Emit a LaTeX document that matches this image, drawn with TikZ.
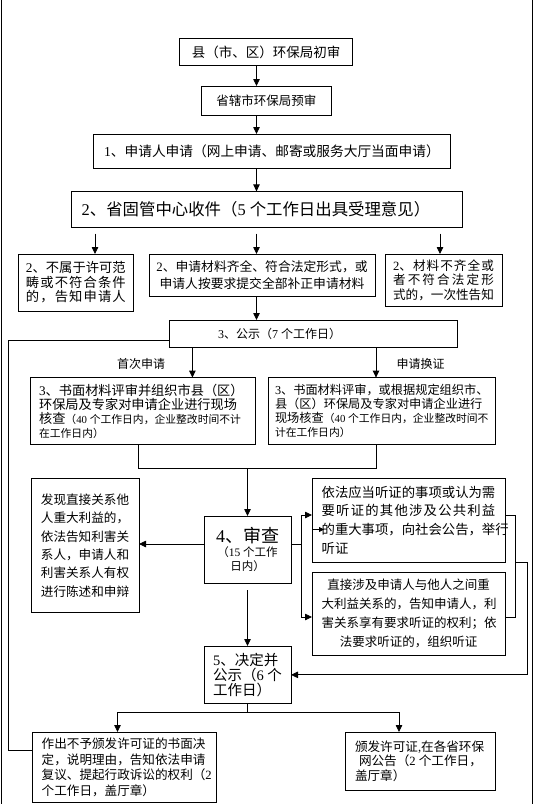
\documentclass[tikz,border=0pt]{standalone}
\usepackage{fontspec}
\setmainfont{Noto Sans CJK SC}
\newfontfamily\tnr{Liberation Serif}
\usetikzlibrary{arrows.meta}
\newcommand\dg[1]{{\tnr #1}}
\newcommand\dgs[1]{{\tnr #1}\nobreak\hspace{0.25em}}
\newcommand\fsz[2]{\fontsize{#1}{#2}\selectfont}
\def\myspr#1#2\relax{#1\ifx\relax#2\relax\else\hfil\myspr#2\relax\fi}
\newcommand\spline[2]{\makebox[#1][s]{\myspr#2\relax}}
\tikzset{
  box/.style={draw, line width=0.9pt, inner sep=0pt, outer sep=0pt},
  arr/.style={line width=0.8pt, -{Triangle[length=7pt,width=6.5pt]}},
  sarr/.style={line width=0.8pt, -{Triangle[length=5pt,width=5pt]}},
  ln/.style={line width=0.8pt},
}
\begin{document}
\begin{tikzpicture}[x=1pt,y=-1pt]
\useasboundingbox (0,0) rectangle (534,804);
\fill[white] (0,0) rectangle (534,804);
% page borders
\draw[line width=0.8pt] (1.2,0) -- (1.2,804);
\draw[line width=0.8pt] (532.8,0) -- (532.8,804);

\node[box, minimum width=173pt, minimum height=27.2pt, font=\fsz{13.5}{16}] (b1) at (266,52.1) {县（市、区）环保局初审};
\node[box, minimum width=129.4pt, minimum height=29pt, font=\fsz{12.5}{15}] (b2) at (266.3,100.5) {省辖市环保局预审};
\node[box, minimum width=356.3pt, minimum height=34pt, font=\fsz{13.7}{16}] (b3) at (271.9,151) {\dg{1}、申请人申请（网上申请、邮寄或服务大厅当面申请）};
\node[box, minimum width=391pt, minimum height=35.6pt, text width=369.6pt, align=left, font=\fsz{16.4}{19}] (b4) at (266.5,209.2) {\dg{2}、省固管中心收件（\dgs{5}个工作日出具受理意见）};

\node[box, minimum width=114.3pt, minimum height=57pt, text width=99.75pt, align=left, font=\fsz{13.3}{14.5}] (L) at (75.85,282.5)
 {\dg{2}、不属于许可范\\\spline{99.75pt}{畴或不符合条件}\\\spline{99.75pt}{的，告知申请人}};
\node[box, minimum width=226pt, minimum height=42pt, align=center, font=\fsz{12.8}{17}] (M) at (262,275)
 {\dg{2}、申请材料齐全、符合法定形式，或\\申请人按要求提交全部补正申请材料};
\node[box, minimum width=117pt, minimum height=52pt, text width=100.8pt, align=left, font=\fsz{12.6}{14.5}] (R) at (443.5,280)
 {\makebox[100.8pt][s]{\dg{2}、\hfil\myspr 材料不齐全或\relax}\\\spline{100.8pt}{者不符合法定形}\\式的，一次性告知};

\node[box, minimum width=287.4pt, minimum height=27.6pt, text width=190.6pt, align=left, font=\fsz{12}{14}] (G) at (313.3,333.8) {\dg{3}、公示（\dgs{7}个工作日）};
\node[font=\fsz{12}{14}, inner sep=0pt] (lab1) at (141,364) {首次申请};
\node[font=\fsz{12}{14}, inner sep=0pt] (lab2) at (420.6,364) {申请换证};

\node[box, minimum width=224.7pt, minimum height=67.1pt, text width=208pt, align=left, font=\fsz{13.2}{14}] (A3) at (143.05,411.15)
 {\dg{3}、书面材料评审并组织市县（区）\\环保局及专家对申请企业进行现场\\核查{\fsz{10.8}{14}（\dgs{40}个工作日内，企业整改时间不计}\\{\fsz{10.8}{14}在工作日内）}};
\node[box, minimum width=227.2pt, minimum height=67.1pt, text width=214pt, align=left, font=\fsz{12.2}{14}] (B3) at (382,411.15)
 {\dg{3}、书面材料评审，或根据规定组织市、\\县（区）环保局及专家对申请企业进行\\现场核查{\fsz{10.8}{14}（\dgs{40}个工作日内，企业整改时间不}\\{\fsz{10.8}{14}计在工作日内）}};

\node[box, minimum width=107.7pt, minimum height=134.2pt, text width=88.5pt, align=left, font=\fsz{12.6}{18.4}] (LB) at (85.15,545.5)
 {发现直接关系他\\人重大利益的，\\依法告知利害关\\系人，申请人和\\利害关系人有权\\进行陈述和申辩};
\node[box, minimum width=87pt, minimum height=67pt, align=center, font=\fsz{11.5}{14.3}] (S) at (247.5,549.5)
 {{\fsz{18}{18}\dg{4}、审查}\\（\dgs{15}个工作\\日内）};
\node[box, minimum width=193pt, minimum height=84pt, text width=173.7pt, align=left, font=\fsz{13.36}{18.6}] (TR) at (408.5,520)
 {依法应当听证的事项或认为需\\\spline{173.7pt}{要听证的其他涉及公共利益}\\的重大事项，向社会公告，举行\\听证};
\node[box, minimum width=193pt, minimum height=83pt, align=center, font=\fsz{12.5}{18.9}] (BR) at (408.5,613.5)
 {直接涉及申请人与他人之间重\\\spline{173.6pt}{大利益关系的，告知申请人，利}\\\spline{173.6pt}{害关系享有要求听证的权利；依}\\法要求听证的，组织听证};

\node[box, minimum width=87pt, minimum height=57.7pt, text width=69pt, align=left, font=\fsz{14.5}{15}] (D) at (247.5,674.85)
 {\dg{5}、决定并\\公示（\dgs{6}个\\工作日）};
\node[box, minimum width=183.6pt, minimum height=70.8pt, text width=165pt, align=left, font=\fsz{12.6}{15.7}] (BL) at (124.2,767.4)
 {作出不予颁发许可证的书面决\\定，说明理由，告知依法申请\\复议、提起行政诉讼的权利（\dg{2}\\个工作日，盖厅章）};
\node[box, minimum width=149.9pt, minimum height=58pt, text width=131.3pt, align=left, font=\fsz{12.6}{14.5}] (BR2) at (420.65,761)
 {颁发许可证\dg{,}在各省环保\\\hspace*{4pt}网公告（\dgs{2}个工作日，\\盖厅章）};

% axes
\coordinate (ax) at (256.5,0);
\coordinate (axL) at (95,0);
\coordinate (axR) at (440,0);
\coordinate (axA) at (192.4,0);
\coordinate (axB) at (376,0);
\coordinate (axC) at (138.6,0);
\coordinate (jn) at (247.5,468.8);
\coordinate (brx) at (301,544);
\coordinate (sa) at (324,529.5);
\coordinate (bk) at (515,0);
\coordinate (ob) at (527,562);
\coordinate (dj) at (247.5,712.5);
\coordinate (axE) at (117.5,0);
\coordinate (axF) at (399,0);
\coordinate (fb) at (8,0);

\draw[arr] (b1.south -| ax) -- (b2.north -| ax);
\draw[arr] (b2.south -| ax) -- (b3.north -| ax);
\draw[arr] (b3.south -| ax) -- (b4.north -| ax);
\draw[arr, shorten <=6.5pt] (b4.south -| axL) -- (L.north -| axL);
\draw[arr, shorten <=6.5pt] (b4.south -| ax) -- (M.north -| ax);
\draw[arr, shorten <=6.5pt] (b4.south -| axR) -- (R.north -| axR);
\draw[arr] (M.south -| ax) -- (G.north -| ax);
\draw[arr] (G.south -| axA) -- (A3.north -| axA);
\draw[arr] (G.south -| axB) -- (B3.north -| axB);
\draw[ln] (A3.south -| axC) -- (axC |- jn) -- (axB |- jn) -- (B3.south -| axB);
\draw[arr] (jn) -- (S.north);
\draw[arr] ([yshift=5.5pt]S.west) -- ([yshift=5.5pt]S.west -| LB.east);
\draw[ln] ([yshift=5.5pt]S.east) -- (brx);
\draw[arr] (brx) |- ([yshift=5pt]TR.west);
\draw[arr] (brx) |- ([yshift=-3.5pt]BR.west);
\draw[sarr] (sa -| TR.west) -- (sa);
\draw[ln] ([yshift=5pt]TR.east) -- ([yshift=5pt]TR.east -| bk) -- ([yshift=-3.5pt]BR.east -| bk) -- ([yshift=-3.5pt]BR.east);
\draw[arr] (bk |- ob) -- (ob) |- (D.east);
\draw[arr, shorten <=7pt] (S.south) -- (D.north);
\draw[ln] (D.south) -- (dj);
\draw[arr] (dj) -| (BL.north -| axE);
\draw[arr] (dj) -| (BR2.north -| axF);
\draw[ln] ([yshift=-7pt]G.west) -- ([yshift=-7pt]G.west -| fb) -- ([yshift=16.7pt]BL.west -| fb) -- ([yshift=16.7pt]BL.west);
\end{tikzpicture}
\end{document}
